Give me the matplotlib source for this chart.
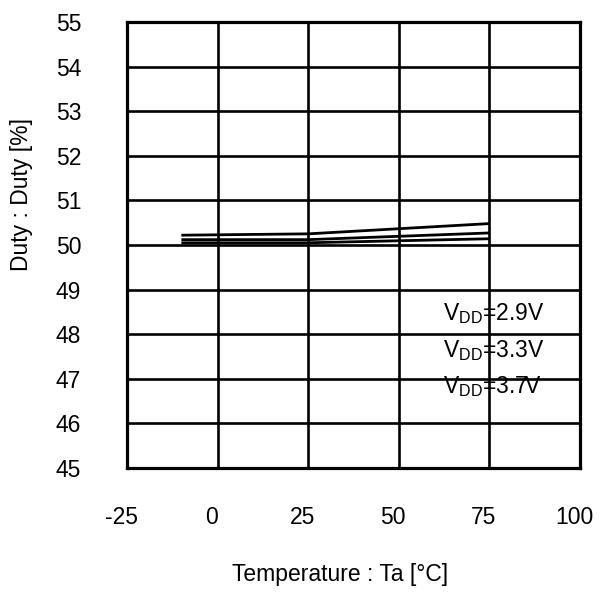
import numpy as np
import matplotlib
matplotlib.use('Agg')
import matplotlib.pyplot as plt
import matplotlib.transforms as mtransforms

plt.rcParams['font.family'] = ['Liberation Sans', 'DejaVu Sans']
plt.rcParams['mathtext.fontset'] = 'custom'
plt.rcParams['mathtext.rm'] = 'Liberation Sans'
plt.rcParams['axes.unicode_minus'] = False

# datos
temperatura = [-10, 25, 75]
duty_29 = [50.22, 50.25, 50.48]
duty_33 = [50.12, 50.12, 50.27]
duty_37 = [50.05, 50.05, 50.14]
etiquetas = ['2.9V', '3.3V', '3.7V']
x_ticks = [-25, 0, 25, 50, 75, 100]
y_ticks = list(range(45, 56))

fig = plt.figure(figsize=(6, 5.92), dpi=100)
ax = fig.add_axes([127/600, 1-468/592, 453/600, 446/592])

for serie in [duty_29, duty_33, duty_37]:
    ax.plot(temperatura, serie, color='black', lw=2.0, solid_capstyle='butt')

ax.set_xlim(-25, 100)
ax.set_ylim(45, 55)
ax.set_xticks(x_ticks)
ax.set_yticks(y_ticks)
ax.grid(True, color='black', lw=1.9)
for s in ax.spines.values():
    s.set_linewidth(2.3)
ax.tick_params(length=0, labelsize=16.5)
ax.tick_params(axis='x', pad=27)
ax.tick_params(axis='y', pad=33)

# etiquetas del eje x corridas un poco a la izquierda
desplazar = mtransforms.ScaledTranslation(-6/100, 0, fig.dpi_scale_trans)
for lab in ax.get_xticklabels():
    lab.set_transform(lab.get_transform() + desplazar)

ax.set_xlabel('Temperature : Ta [°C]', fontsize=16.5)
ax.xaxis.set_label_coords(0.47, -0.213)
ax.set_ylabel('Duty : Duty [%]', fontsize=16.5)
ax.yaxis.set_label_coords(-0.207, 0.614)

y_texto = [48.47, 47.64, 46.82]
for et, yt in zip(etiquetas, y_texto):
    ax.text(62.2, yt, r'V$_{\rm DD}$=' + et, fontsize=16.5, va='center', ha='left')

fig.savefig('out.png', dpi=100)
